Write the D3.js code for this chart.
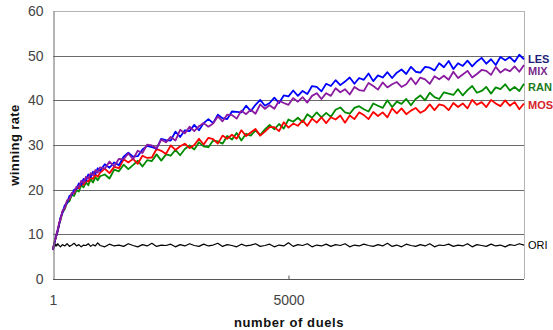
<!DOCTYPE html>
<html>
<head>
<meta charset="utf-8">
<script src="https://cdn.jsdelivr.net/npm/d3@7"></script>
<style>
  body { margin: 0; background: #fff; }
  text { font-family: "Liberation Sans", Arial, sans-serif; }
</style>
</head>
<body>
<div id="chart"></div>
<script>
// duel counts where the curves were sampled
const duels = [1, 20, 40, 60, 80, 100, 130, 160, 200, 250, 300, 350, 400, 450, 500, 550, 600, 650, 700, 750, 800, 850, 900, 950, 1000,
  1100, 1200, 1300, 1400, 1500, 1600, 1700, 1800, 1900, 2000, 2100, 2200, 2300, 2400, 2500, 2600, 2700, 2800, 2900, 3000,
  3100, 3200, 3300, 3400, 3500, 3600, 3700, 3800, 3900, 4000, 4100, 4200, 4300, 4400, 4500, 4600, 4700, 4800, 4900, 5000,
  5100, 5200, 5300, 5400, 5500, 5600, 5700, 5800, 5900, 6000, 6100, 6200, 6300, 6400, 6500, 6600, 6700, 6800, 6900, 7000,
  7100, 7200, 7300, 7400, 7500, 7600, 7700, 7800, 7900, 8000, 8100, 8200, 8300, 8400, 8500, 8600, 8700, 8800, 8900, 9000,
  9100, 9200, 9300, 9400, 9500, 9600, 9700, 9800, 9900, 10000];

const les = [6.5, 7.6, 8.4, 9.5, 9.9, 11.0, 12.0, 13.8, 14.7, 16.5, 17.0, 18.6, 18.8, 20.0, 20.1, 21.4, 21.1, 22.4, 22.0, 23.4, 22.8, 24.0, 23.5, 24.8, 24.2,
  25.7, 24.9, 26.1, 25.5, 27.4, 28.3, 27.4, 27.5, 29.0, 29.8, 29.5, 29.2, 31.4, 31.1, 31.0, 33.0, 31.8, 33.3, 33.1, 34.5,
  33.3, 34.9, 35.8, 34.9, 36.8, 36.0, 35.8, 37.5, 37.4, 37.3, 38.8, 37.6, 39.0, 40.1, 38.8, 39.4, 40.6, 39.4, 41.1, 40.9,
  42.2, 41.0, 42.1, 41.4, 43.2, 43.0, 42.0, 43.7, 43.2, 44.5, 43.4, 44.2, 45.1, 43.7, 45.0, 44.6, 46.0, 44.3, 45.6, 45.1,
  46.3, 45.0, 46.2, 46.9, 45.9, 47.5, 46.4, 46.2, 47.5, 47.3, 46.7, 48.3, 47.4, 48.8, 47.0, 48.3, 47.7, 48.9, 47.6, 48.7,
  49.5, 48.2, 49.2, 47.9, 49.7, 49.0, 49.7, 48.6, 50.2, 49.2];

const mix = [6.5, 7.4, 8.7, 9.2, 10.3, 10.6, 12.5, 13.3, 15.2, 15.9, 17.6, 17.9, 19.3, 19.3, 20.7, 20.6, 22.0, 21.5, 22.9, 22.5, 23.7, 23.2, 24.4, 23.8, 25.0,
  24.7, 26.3, 25.2, 26.9, 26.8, 28.1, 26.8, 28.7, 28.2, 30.1, 29.9, 29.3, 31.2, 30.6, 31.8, 31.0, 33.4, 32.6, 34.1, 33.1,
  34.2, 34.9, 34.1, 34.8, 36.4, 35.3, 36.8, 36.7, 35.9, 37.7, 36.9, 37.9, 37.0, 39.1, 38.1, 38.9, 38.1, 39.9, 39.4, 39.0,
  40.5, 39.7, 40.7, 39.5, 41.0, 41.6, 40.3, 41.6, 41.0, 42.7, 41.8, 42.5, 41.3, 43.0, 42.3, 42.1, 43.9, 43.2, 42.4, 44.0,
  42.9, 43.6, 44.1, 43.0, 43.6, 45.0, 43.6, 45.1, 44.7, 43.7, 45.4, 44.7, 45.5, 44.6, 46.4, 45.0, 45.8, 46.6, 45.1, 45.9,
  46.8, 46.6, 45.7, 47.5, 46.2, 47.0, 46.5, 47.6, 46.4, 47.9];

const ran = [6.5, 7.5, 8.6, 9.1, 10.2, 10.5, 12.3, 13.2, 14.9, 15.6, 17.1, 17.4, 18.8, 18.6, 19.9, 19.6, 21.0, 20.5, 21.6, 21.0, 22.3, 21.6, 22.8, 22.1, 23.0,
  23.4, 22.5, 24.5, 24.1, 25.6, 24.6, 25.5, 26.5, 25.2, 26.6, 26.4, 27.9, 26.5, 27.9, 27.6, 28.9, 27.7, 29.1, 29.9, 29.0,
  30.6, 29.7, 29.5, 31.0, 30.8, 30.3, 32.0, 31.2, 32.7, 31.0, 32.5, 32.1, 33.3, 32.2, 33.5, 34.5, 33.5, 34.7, 33.7, 35.7,
  35.2, 36.1, 35.1, 36.9, 36.1, 37.3, 36.2, 37.2, 36.3, 37.9, 38.4, 37.3, 37.0, 38.3, 38.7, 38.0, 37.5, 39.3, 38.8, 38.3,
  40.0, 38.5, 39.7, 39.2, 40.3, 38.9, 40.3, 41.1, 40.0, 41.7, 40.7, 40.3, 41.8, 41.5, 41.2, 42.5, 41.1, 42.3, 43.2, 41.7,
  42.1, 43.0, 41.5, 42.9, 42.5, 43.6, 42.2, 43.0, 42.1, 43.7];

const mos = [6.5, 7.7, 8.5, 9.4, 10.1, 10.9, 12.4, 13.4, 15.0, 16.0, 17.4, 17.9, 19.2, 19.2, 20.4, 20.3, 21.5, 21.1, 22.1, 21.8, 22.8, 22.4, 23.4, 22.9, 23.8,
  24.7, 23.7, 25.1, 24.8, 26.8, 26.1, 26.9, 25.8, 27.6, 27.1, 27.2, 29.1, 28.7, 28.0, 29.9, 28.9, 29.7, 30.3, 29.3, 30.0,
  31.4, 30.1, 31.6, 31.3, 30.3, 32.1, 31.4, 32.3, 31.4, 33.3, 32.0, 32.8, 33.6, 32.1, 33.0, 34.0, 34.0, 33.1, 35.1, 33.9,
  34.8, 34.3, 35.5, 34.3, 35.9, 35.0, 36.2, 34.9, 36.2, 35.7, 36.6, 35.0, 36.6, 35.8, 37.3, 36.7, 35.8, 37.4, 36.5, 37.3,
  36.2, 38.2, 37.1, 38.2, 36.9, 37.7, 38.3, 37.2, 37.8, 39.1, 37.8, 39.1, 38.8, 37.8, 39.4, 38.5, 39.3, 38.2, 40.1, 39.0,
  39.6, 38.5, 40.1, 39.3, 38.7, 40.0, 38.8, 39.6, 38.0, 39.3];

const ori = [7.2, 7.6, 7.3, 7.8, 7.4, 7.9, 7.5, 7.2, 7.7, 7.4, 7.9, 7.3, 7.6, 8.0, 7.4, 7.7, 7.2, 7.6, 7.5, 7.9,
  7.3, 7.7, 7.4, 8.1, 7.5, 7.2, 7.8, 7.4, 7.6, 7.3, 7.9, 7.5, 7.2, 7.7, 7.4, 8.0, 7.3, 7.6, 7.5, 7.8,
  7.2, 7.7, 7.4, 7.9, 7.5, 7.3, 7.8, 7.4, 7.6, 8.0, 7.3, 7.7, 7.5, 7.2, 7.8, 7.4, 7.6, 7.9, 7.3, 7.5,
  7.8, 7.2, 7.6, 7.4, 8.1, 7.3, 7.7, 7.5, 7.9, 7.2, 7.6, 7.4, 7.8, 7.3, 7.7, 7.5, 7.9, 7.2, 7.6, 7.4,
  7.8, 7.5, 7.3, 7.7, 7.4, 8.0, 7.3, 7.6, 7.2, 7.8, 7.5, 7.3, 7.7, 7.4, 7.9, 7.2, 7.6, 7.5, 7.8, 7.3,
  7.6, 7.4, 7.9, 7.2, 7.7, 7.5, 7.3, 7.8, 7.4, 7.6, 7.2, 7.7, 7.5, 7.9, 7.6];

const yTicks = [0, 10, 20, 30, 40, 50, 60];
const xTicks = [1, 5000];

// drawing order: black first, purple ends on top
const series = [
  { name: "ORI", values: ori, color: "#000000", label: "#000000", ly: 245, weight: "normal", sw: 1.2 },
  { name: "RAN", values: ran, color: "#008a00", label: "#1a7a1a", ly: 87, weight: "bold", sw: 1.8 },
  { name: "MOS", values: mos, color: "#ff0000", label: "#d81e2a", ly: 105, weight: "bold", sw: 1.8 },
  { name: "LES", values: les, color: "#0000ff", label: "#1e1e78", ly: 59, weight: "bold", sw: 1.8 },
  { name: "MIX", values: mix, color: "#8a1aa0", label: "#7c2a8c", ly: 71, weight: "bold", sw: 1.8 }
];

const W = 553, H = 330;
const plotLeft = 53, plotRight = 524, plotTop = 11, plotBottom = 279;

const svg = d3.select("#chart").append("svg")
  .attr("width", W)
  .attr("height", H);

const x = d3.scaleLinear().domain([1, 10000]).range([plotLeft, plotRight]);
const y = d3.scaleLinear().domain([0, 60]).range([plotBottom, plotTop]);

/* grid and frame */
svg.append("g")
  .selectAll("line")
  .data(yTicks.filter(d => d > 0))
  .enter().append("line")
  .attr("x1", plotLeft).attr("x2", plotRight)
  .attr("y1", d => Math.round(y(d)) + 0.5).attr("y2", d => Math.round(y(d)) + 0.5)
  .attr("stroke", d => d === 60 ? "#b4b4b4" : "#6a6a6a")
  .attr("stroke-width", 1);

svg.append("line")
  .attr("x1", plotRight + 0.5).attr("x2", plotRight + 0.5)
  .attr("y1", plotTop).attr("y2", plotBottom)
  .attr("stroke", "#b4b4b4");

/* lines */
const line = d3.line()
  .x((d, i) => x(duels[i]))
  .y(d => y(d));

svg.append("g")
  .selectAll("path")
  .data(series)
  .enter().append("path")
  .attr("d", d => line(d.values))
  .attr("fill", "none")
  .attr("stroke", d => d.color)
  .attr("stroke-width", d => d.sw)
  .attr("stroke-linejoin", "round");

/* axes */
const yAxis = d3.axisLeft(y).tickValues(yTicks).tickSize(0).tickPadding(10);
const gy = svg.append("g")
  .attr("transform", `translate(${plotLeft + 0.5},0)`)
  .call(yAxis);
gy.select(".domain").attr("stroke", "#6a6a6a");
gy.selectAll("text")
  .attr("fill", "#444")
  .style("font-size", "14px");

const xAxis = d3.axisBottom(x).tickValues(xTicks).tickSize(4).tickPadding(12).tickFormat(d3.format("d"));
const gx = svg.append("g")
  .attr("transform", `translate(0,${plotBottom + 0.5})`)
  .call(xAxis);
gx.select(".domain").attr("stroke", "#555").attr("d", `M${plotLeft},0H${plotRight}`);
gx.selectAll(".tick line").attr("stroke", "#555").attr("y2", -4);
gx.selectAll(".tick").filter(d => d === 1).select("line").remove();
gx.selectAll("text")
  .attr("fill", "#444")
  .style("font-size", "14px");

/* titles */
svg.append("text")
  .attr("x", 289).attr("y", 327)
  .attr("text-anchor", "middle")
  .style("font-size", "13px")
  .style("font-weight", "bold")
  .style("letter-spacing", "0.6px")
  .attr("fill", "#111")
  .text("number of duels");

svg.append("text")
  .attr("transform", "translate(19,145) rotate(-90)")
  .attr("text-anchor", "middle")
  .style("font-size", "13px")
  .style("font-weight", "bold")
  .style("letter-spacing", "0.4px")
  .attr("fill", "#111")
  .text("winning rate");

/* series names at the right end */
svg.append("g")
  .selectAll("text")
  .data(series)
  .enter().append("text")
  .attr("x", 528)
  .attr("y", d => d.ly)
  .attr("dy", "0.35em")
  .style("font-size", "11px")
  .style("font-weight", d => d.weight)
  .attr("fill", d => d.label)
  .text(d => d.name);
</script>
</body>
</html>
